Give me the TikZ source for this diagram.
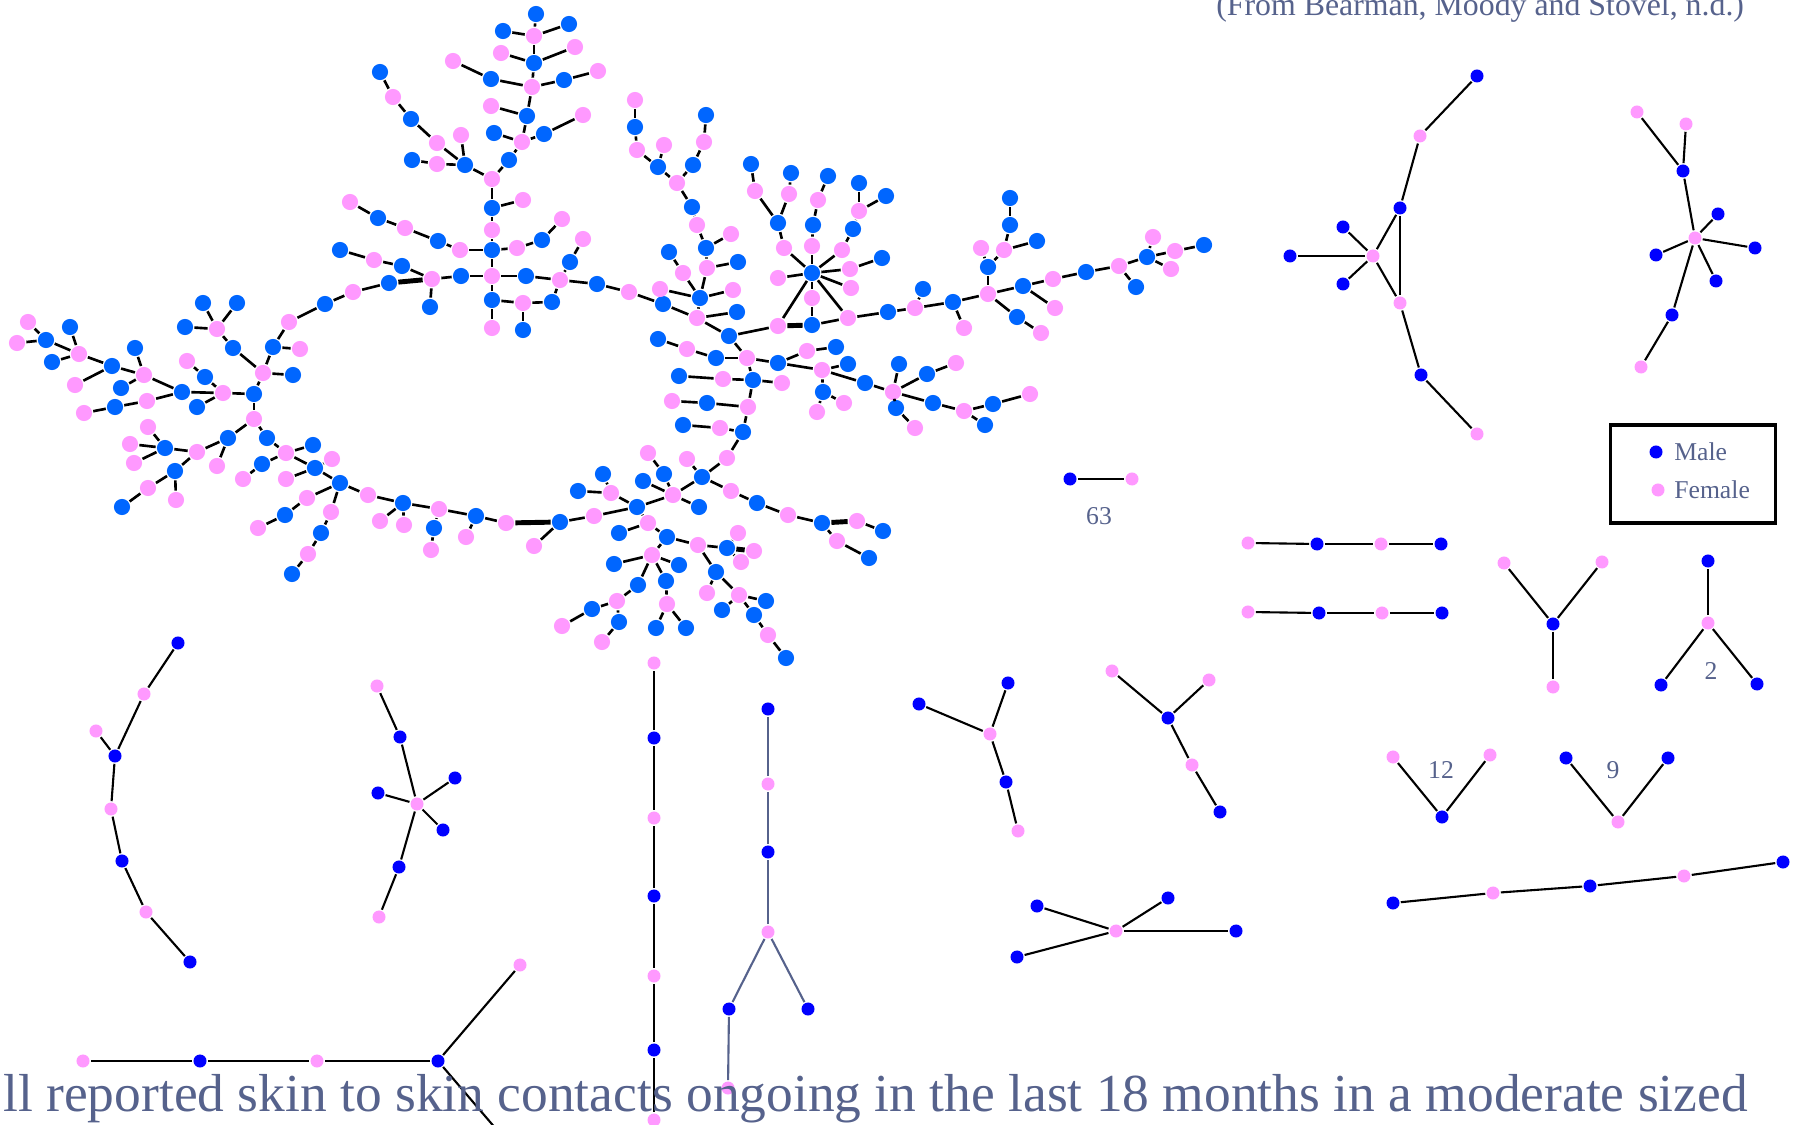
\documentclass[tikz,border=0pt]{standalone}
\usepackage{fontspec}
\setmainfont{Liberation Serif}
\usepackage{tikz}

\definecolor{boyblue}{RGB}{0,102,255}
\definecolor{girlpink}{RGB}{255,153,255}
\definecolor{pureblue}{RGB}{0,0,255}
\definecolor{slate}{RGB}{86,98,140}

\begin{document}
\begin{tikzpicture}
        [x=0.01cm,y=-0.01cm,line width=0.75pt,
         every node/.style={circle,inner sep=0pt},
         m/.style={fill=boyblue,minimum size=4.6pt},
         f/.style={fill=girlpink,minimum size=4.6pt},
         sm/.style={fill=pureblue,minimum size=3.7pt},
         sf/.style={fill=girlpink,minimum size=3.7pt},
         heavy/.style={line width=1.4pt},
         lite/.style={line width=0.6pt},
         lbl/.style={rectangle,text=slate,font=\fontsize{7.3}{8}\selectfont}]
        \useasboundingbox (0,0) rectangle (1800,1125);

        % big component, left cluster
        \node[f] (a1) at (28,322) {};  \node[m] (a2) at (46,340) {};  \node[f] (a3) at (17,343) {};
        \node[m] (a4) at (70,327) {};  \node[m] (a5) at (52,362) {};  \node[f] (a6) at (79,354) {};
        \node[m] (a7) at (112,366) {}; \node[f] (a8) at (75,385) {};  \node[m] (a9) at (135,348) {};
        \node[f] (a10) at (144,375) {}; \node[m] (a11) at (121,388) {}; \node[f] (a12) at (147,401) {};
        \node[m] (a13) at (115,407) {}; \node[f] (a14) at (84,413) {};  \node[m] (a15) at (182,392) {};
        \node[f] (a16) at (187,361) {}; \node[m] (a17) at (205,377) {}; \node[f] (a18) at (223,393) {};
        \node[m] (a19) at (197,407) {}; \node[m] (a20) at (254,394) {}; \node[f] (a21) at (263,373) {};
        \node[m] (a22) at (293,375) {}; \node[m] (a23) at (233,348) {}; \node[f] (a24) at (217,329) {};
        \node[m] (a25) at (203,303) {}; \node[m] (a26) at (237,303) {}; \node[m] (a27) at (185,327) {};
        \node[m] (a28) at (273,347) {}; \node[f] (a29) at (300,349) {}; \node[f] (a30) at (289,322) {};
        \node[m] (a31) at (325,304) {}; \node[f] (a32) at (353,292) {}; \node[m] (a33) at (389,283) {};

        % lower left arm
        \node[f] (b1) at (254,419) {};  \node[m] (b2) at (228,438) {};  \node[f] (b3) at (197,452) {};
        \node[m] (b4) at (165,448) {};  \node[f] (b5) at (148,427) {};  \node[f] (b6) at (130,444) {};
        \node[f] (b7) at (134,463) {};  \node[m] (b8) at (175,471) {};  \node[f] (b9) at (148,488) {};
        \node[m] (b10) at (122,507) {}; \node[f] (b11) at (176,500) {}; \node[f] (b12) at (217,466) {};
        \node[m] (b13) at (267,438) {}; \node[f] (b14) at (286,453) {}; \node[m] (b15) at (313,445) {};
        \node[m] (b16) at (262,464) {}; \node[f] (b17) at (243,479) {}; \node[m] (b18) at (315,468) {};
        \node[f] (b19) at (332,459) {}; \node[f] (b20) at (286,479) {}; \node[m] (b21) at (340,483) {};
        \node[f] (b22) at (307,498) {}; \node[m] (b23) at (285,515) {}; \node[f] (b24) at (258,528) {};
        \node[f] (b25) at (331,512) {}; \node[m] (b26) at (321,533) {}; \node[f] (b27) at (308,554) {};
        \node[m] (b28) at (292,574) {}; \node[f] (b29) at (368,495) {}; \node[m] (b30) at (403,503) {};
        \node[f] (b31) at (380,521) {}; \node[f] (b32) at (404,525) {}; \node[f] (b33) at (439,509) {};
        \node[m] (b34) at (434,528) {}; \node[f] (b35) at (431,550) {}; \node[m] (b36) at (476,516) {};
        \node[f] (b37) at (466,537) {}; \node[f] (b38) at (506,523) {}; \node[m] (b39) at (560,522) {};
        \node[f] (b40) at (534,546) {}; \node[f] (b41) at (594,516) {};

        % bottom cluster
        \node[m] (c1) at (637,507) {};  \node[f] (c2) at (611,493) {};  \node[m] (c3) at (578,491) {};
        \node[m] (c4) at (603,474) {};  \node[f] (c5) at (673,495) {};  \node[m] (c6) at (643,481) {};
        \node[m] (c7) at (664,474) {};  \node[f] (c8) at (648,453) {};  \node[m] (c9) at (699,507) {};
        \node[m] (c10) at (702,477) {}; \node[f] (c11) at (687,459) {}; \node[f] (c12) at (727,458) {};
        \node[m] (c13) at (743,432) {}; \node[f] (c14) at (720,428) {}; \node[m] (c15) at (683,425) {};
        \node[f] (c16) at (731,491) {}; \node[m] (c17) at (757,503) {}; \node[f] (c18) at (788,515) {};
        \node[m] (c19) at (822,523) {}; \node[f] (c20) at (857,521) {}; \node[m] (c21) at (883,531) {};
        \node[f] (c22) at (837,541) {}; \node[m] (c23) at (869,558) {}; \node[f] (c24) at (648,523) {};
        \node[m] (c25) at (619,533) {}; \node[m] (c26) at (667,537) {}; \node[f] (c27) at (698,545) {};
        \node[m] (c28) at (727,548) {}; \node[f] (c29) at (738,533) {}; \node[f] (c30) at (754,551) {};
        \node[f] (c31) at (741,562) {}; \node[f] (c32) at (652,555) {}; \node[m] (c33) at (614,564) {};
        \node[m] (c34) at (679,565) {}; \node[m] (c35) at (638,585) {}; \node[f] (c36) at (617,601) {};
        \node[m] (c37) at (592,609) {}; \node[f] (c38) at (562,626) {}; \node[m] (c39) at (619,622) {};
        \node[f] (c40) at (602,642) {}; \node[m] (c41) at (666,581) {}; \node[f] (c42) at (667,604) {};
        \node[m] (c43) at (656,628) {}; \node[m] (c44) at (686,628) {}; \node[m] (c45) at (716,572) {};
        \node[f] (c46) at (707,593) {}; \node[f] (c47) at (739,595) {}; \node[m] (c48) at (766,601) {};
        \node[m] (c49) at (722,610) {}; \node[m] (c50) at (754,615) {}; \node[f] (c51) at (768,635) {};
        \node[m] (c52) at (786,658) {};

        % center column
        \node[f] (d1) at (432,279) {};  \node[m] (d2) at (402,266) {};  \node[f] (d3) at (374,260) {};
        \node[m] (d4) at (340,250) {};  \node[m] (d5) at (430,307) {};  \node[m] (d6) at (461,276) {};
        \node[f] (d7) at (492,276) {};  \node[m] (d8) at (492,250) {};  \node[f] (d9) at (492,230) {};
        \node[m] (d10) at (492,208) {}; \node[f] (d11) at (523,200) {}; \node[f] (d12) at (492,179) {};
        \node[m] (d13) at (509,160) {}; \node[f] (d14) at (522,142) {}; \node[m] (d15) at (494,133) {};
        \node[m] (d16) at (544,134) {}; \node[f] (d17) at (583,115) {}; \node[m] (d18) at (527,116) {};
        \node[f] (d19) at (491,106) {}; \node[f] (d20) at (532,87) {};  \node[m] (d21) at (491,79) {};
        \node[f] (d22) at (453,61) {};  \node[m] (d23) at (564,80) {};  \node[f] (d24) at (598,71) {};
        \node[m] (d25) at (534,63) {};  \node[f] (d26) at (501,53) {};  \node[f] (d27) at (575,47) {};
        \node[f] (d28) at (534,36) {};  \node[m] (d29) at (536,14) {};  \node[m] (d30) at (503,31) {};
        \node[m] (d31) at (569,24) {};  \node[m] (d32) at (465,165) {}; \node[f] (d33) at (461,135) {};
        \node[f] (d34) at (437,164) {}; \node[m] (d35) at (412,160) {}; \node[f] (d36) at (437,143) {};
        \node[m] (d37) at (411,119) {}; \node[f] (d38) at (393,97) {};  \node[m] (d39) at (380,72) {};
        \node[f] (d40) at (460,250) {}; \node[m] (d41) at (438,241) {}; \node[f] (d42) at (405,228) {};
        \node[m] (d43) at (378,218) {}; \node[f] (d44) at (350,202) {}; \node[f] (d45) at (517,248) {};
        \node[m] (d46) at (542,240) {}; \node[f] (d47) at (562,219) {}; \node[m] (d48) at (526,276) {};
        \node[f] (d49) at (560,280) {}; \node[m] (d50) at (570,262) {}; \node[f] (d51) at (583,239) {};
        \node[m] (d52) at (492,300) {}; \node[f] (d53) at (492,328) {}; \node[f] (d54) at (523,303) {};
        \node[m] (d55) at (523,330) {}; \node[m] (d56) at (552,302) {}; \node[m] (d57) at (597,284) {};
        \node[f] (d58) at (629,292) {}; \node[m] (d59) at (663,304) {};

        % star region
        \node[f] (e1) at (697,318) {};  \node[m] (e2) at (700,298) {};  \node[f] (e3) at (683,273) {};
        \node[m] (e4) at (669,252) {};  \node[f] (e5) at (707,268) {};  \node[m] (e6) at (706,248) {};
        \node[f] (e7) at (731,234) {};  \node[m] (e8) at (738,262) {};  \node[f] (e9) at (697,225) {};
        \node[m] (e10) at (692,207) {}; \node[f] (e11) at (677,183) {}; \node[m] (e12) at (658,167) {};
        \node[f] (e13) at (664,145) {}; \node[f] (e14) at (637,150) {}; \node[m] (e15) at (635,127) {};
        \node[f] (e16) at (635,100) {}; \node[m] (e17) at (693,165) {}; \node[f] (e18) at (704,142) {};
        \node[m] (e19) at (706,115) {}; \node[f] (e20) at (660,289) {}; \node[f] (e21) at (733,290) {};
        \node[m] (e22) at (737,312) {}; \node[m] (e23) at (729,336) {}; \node[f] (e24) at (778,326) {};
        \node[m] (e25) at (812,325) {}; \node[f] (e26) at (812,298) {}; \node[m] (e27) at (812,273) {};
        \node[f] (e28) at (784,248) {}; \node[m] (e29) at (778,223) {}; \node[f] (e30) at (755,191) {};
        \node[m] (e31) at (751,164) {}; \node[f] (e32) at (789,194) {}; \node[m] (e33) at (791,173) {};
        \node[f] (e34) at (812,246) {}; \node[m] (e35) at (813,225) {}; \node[f] (e36) at (818,200) {};
        \node[m] (e37) at (828,176) {}; \node[f] (e38) at (842,250) {}; \node[m] (e39) at (853,229) {};
        \node[f] (e40) at (859,211) {}; \node[m] (e41) at (859,183) {}; \node[m] (e42) at (886,196) {};
        \node[f] (e43) at (850,269) {}; \node[m] (e44) at (882,258) {}; \node[f] (e45) at (851,288) {};
        \node[f] (e46) at (778,278) {}; \node[f] (e47) at (848,318) {};

        % right arm
        \node[m] (g1) at (888,312) {};  \node[f] (g2) at (915,308) {};  \node[m] (g3) at (923,289) {};
        \node[m] (g4) at (953,302) {};  \node[f] (g5) at (964,328) {};  \node[f] (g6) at (988,294) {};
        \node[m] (g7) at (988,267) {};  \node[f] (g8) at (981,248) {};  \node[f] (g9) at (1004,250) {};
        \node[m] (g10) at (1010,225) {}; \node[m] (g11) at (1010,198) {}; \node[m] (g12) at (1037,241) {};
        \node[m] (g13) at (1023,286) {}; \node[f] (g14) at (1053,279) {}; \node[m] (g15) at (1086,272) {};
        \node[f] (g16) at (1119,266) {}; \node[m] (g17) at (1147,257) {}; \node[f] (g18) at (1153,237) {};
        \node[f] (g19) at (1175,251) {}; \node[m] (g20) at (1204,245) {}; \node[f] (g21) at (1171,269) {};
        \node[m] (g22) at (1136,287) {}; \node[f] (g23) at (1055,308) {}; \node[m] (g24) at (1017,317) {};
        \node[f] (g25) at (1041,333) {};

        % lower right arm
        \node[m] (h1) at (658,339) {};  \node[f] (h2) at (687,349) {};  \node[m] (h3) at (716,358) {};
        \node[f] (h4) at (747,358) {};  \node[m] (h5) at (778,363) {};  \node[f] (h6) at (807,351) {};
        \node[m] (h7) at (836,347) {};  \node[f] (h8) at (822,370) {};  \node[m] (h9) at (848,364) {};
        \node[m] (h10) at (823,392) {}; \node[f] (h11) at (817,412) {}; \node[f] (h12) at (844,403) {};
        \node[m] (h13) at (865,383) {}; \node[f] (h14) at (893,392) {}; \node[m] (h15) at (899,364) {};
        \node[m] (h16) at (927,374) {}; \node[f] (h17) at (956,363) {}; \node[m] (h18) at (933,403) {};
        \node[f] (h19) at (964,411) {}; \node[m] (h20) at (993,404) {}; \node[f] (h21) at (1030,394) {};
        \node[m] (h22) at (985,425) {}; \node[m] (h23) at (896,408) {}; \node[f] (h24) at (915,428) {};
        \node[m] (h25) at (753,380) {}; \node[f] (h26) at (723,379) {}; \node[m] (h27) at (679,376) {};
        \node[f] (h28) at (782,383) {}; \node[f] (h29) at (748,407) {}; \node[m] (h30) at (707,403) {};
        \node[f] (h31) at (672,401) {};

        \path (a2) edge (a1) edge (a3) edge (a6);
        \path (a6) edge (a4) edge (a5) edge (a7);
        \path (a7) edge (a8) edge (a10);
        \path (a10) edge (a9) edge (a11) edge (a15);
        \path (a15) edge (a12) edge (a18);
        \path (a13) edge (a12) edge (a14);
        \path (a17) edge (a16) edge (a18);
        \path (a18) edge (a19) edge (a20);
        \path (a20) edge (a21) edge (b1);
        \path (a21) edge (a22) edge (a23) edge (a28);
        \path (a24) edge (a23) edge (a25) edge (a26) edge (a27);
        \path (a28) edge (a29) edge (a30);
        \path (a31) edge (a30) edge (a32);
        \path (a32) edge (a33);
        \path [heavy] (a33) edge (d1);

        \path (b1) edge (b2) edge (b13);
        \path (b2) edge (b3) edge (b12);
        \path (b3) edge (b4) edge (b8);
        \path (b4) edge (b5) edge (b6) edge (b7);
        \path (b8) edge (b9) edge (b11);
        \path (b9) edge (b10);
        \path (b14) edge (b13) edge (b15) edge (b16) edge (b18);
        \path (b16) edge (b17);
        \path (b18) edge (b19) edge (b20) edge (b21);
        \path (b21) edge (b22) edge (b25) edge (b29);
        \path (b23) edge (b22) edge (b24);
        \path (b26) edge (b25) edge (b27);
        \path (b27) edge (b28);
        \path (b30) edge (b29) edge (b31) edge (b32) edge (b33);
        \path (b33) edge (b34) edge (b36);
        \path (b34) edge (b35);
        \path (b36) edge (b37) edge (b38);
        \path [heavy] (b38) edge (b39);
        \path (b39) edge (b40) edge (b41);
        \path (b41) edge (c1);

        \path (c1) edge (c2) edge (c5) edge (c24);
        \path (c2) edge (c3) edge (c4);
        \path (c5) edge (c6) edge (c7) edge (c9) edge (c10);
        \path (c7) edge (c8);
        \path (c10) edge (c11) edge (c12) edge (c16);
        \path (c12) edge (c13);
        \path (c14) edge (c13) edge (c15);
        \path (c17) edge (c16) edge (c18);
        \path (c19) edge (c18) edge (c22);
        \path [heavy] (c19) edge (c20);
        \path (c20) edge (c21);
        \path (c22) edge (c23);
        \path (c24) edge (c25) edge (c26);
        \path (c26) edge (c27) edge (c32);
        \path (c27) edge (c28) edge (c45);
        \path (c28) edge (c29) edge (c31);
        \path [heavy] (c28) edge (c30);
        \path (c32) edge (c33) edge (c34) edge (c35) edge (c41);
        \path (c36) edge (c35) edge (c37) edge (c39);
        \path (c37) edge (c38);
        \path (c39) edge (c40);
        \path (c42) edge (c41) edge (c43) edge (c44);
        \path (c45) edge (c46) edge (c47);
        \path (c47) edge (c48) edge (c49) edge (c50);
        \path (c51) edge (c50) edge (c52);

        \path (d3) edge (d4) edge (d2);
        \path (d1) edge (d2) edge (d5) edge (d6);
        \path (d7) edge (d6) edge (d8) edge (d48) edge (d52);
        \path (d8) edge (d9) edge (d40) edge (d45);
        \path (d10) edge (d9) edge (d11) edge (d12);
        \path (d12) edge (d13) edge (d32);
        \path (d14) edge (d13) edge (d15) edge (d16) edge (d18);
        \path (d16) edge (d17);
        \path (d18) edge (d19) edge (d20);
        \path (d20) edge (d21) edge (d23) edge (d25);
        \path (d21) edge (d22);
        \path (d23) edge (d24);
        \path (d25) edge (d26) edge (d27) edge (d28);
        \path (d28) edge (d29) edge (d30) edge (d31);
        \path (d32) edge (d33) edge (d34) edge (d36);
        \path (d34) edge (d35);
        \path (d37) edge (d36) edge (d38);
        \path (d38) edge (d39);
        \path (d41) edge (d40) edge (d42);
        \path (d43) edge (d42) edge (d44);
        \path (d46) edge (d45) edge (d47);
        \path (d49) edge (d48) edge (d50) edge (d56) edge (d57);
        \path (d50) edge (d51);
        \path (d52) edge (d53) edge (d54);
        \path (d54) edge (d55) edge (d56);
        \path (d58) edge (d57) edge (d59);
        \path (d59) edge (e1);

        \path (e2) edge (e1) edge (e3) edge (e5) edge (e20) edge (e21);
        \path (e3) edge (e4);
        \path (e6) edge (e5) edge (e7) edge (e9);
        \path (e5) edge (e8);
        \path (e10) edge (e9) edge (e11);
        \path (e11) edge (e12) edge (e17);
        \path (e12) edge (e13) edge (e14);
        \path (e15) edge (e14) edge (e16);
        \path (e18) edge (e17) edge (e19);
        \path (e1) edge (e22) edge (e23);
        \path (e23) edge (e24) edge (h4);
        \path [heavy] (e24) edge (e25);
        \path (e25) edge (e26) edge (e47);
        \path (e27) edge (e26) edge (e28) edge (e34) edge (e38) edge (e43) edge (e45) edge (e46) edge (e24) edge (e47);
        \path (e29) edge (e28) edge (e30) edge (e32);
        \path (e30) edge (e31);
        \path (e32) edge (e33);
        \path (e35) edge (e34) edge (e36);
        \path (e36) edge (e37);
        \path (e39) edge (e38) edge (e40);
        \path (e40) edge (e41) edge (e42);
        \path (e43) edge (e44);
        \path (e47) edge (g1);

        \path (g2) edge (g1) edge (g3) edge (g4);
        \path (g4) edge (g5) edge (g6);
        \path (g6) edge (g7) edge (g13) edge (g24);
        \path (g7) edge (g8) edge (g9);
        \path (g9) edge (g10) edge (g12);
        \path (g10) edge (g11);
        \path (g13) edge (g14) edge (g23);
        \path (g15) edge (g14) edge (g16);
        \path (g16) edge (g17) edge (g22);
        \path (g17) edge (g18) edge (g19) edge (g21);
        \path (g19) edge (g20);
        \path (g24) edge (g25);

        \path (h2) edge (h1) edge (h3);
        \path (h4) edge (h3) edge (h5) edge (h25);
        \path (h5) edge (h6) edge (h8);
        \path (h6) edge (h7);
        \path (h8) edge (h9) edge (h10) edge (h13);
        \path (h10) edge (h11) edge (h12);
        \path (h14) edge (h13) edge (h15) edge (h16) edge (h18) edge (h23);
        \path (h16) edge (h17);
        \path (h19) edge (h18) edge (h20) edge (h22);
        \path (h20) edge (h21);
        \path (h23) edge (h24);
        \path (h25) edge (h26) edge (h28) edge (h29);
        \path (h26) edge (h27);
        \path (h29) edge (h30) edge (c13);
        \path (h30) edge (h31);

        % small components
        \node[sm] (p1) at (1477,76) {};  \node[sf] (p2) at (1420,136) {}; \node[sm] (p3) at (1400,208) {};
        \node[sm] (p4) at (1343,227) {}; \node[sm] (p5) at (1290,256) {}; \node[sf] (p6) at (1373,256) {};
        \node[sm] (p7) at (1343,284) {}; \node[sf] (p8) at (1400,303) {}; \node[sm] (p9) at (1421,375) {};
        \node[sf] (p10) at (1477,434) {};
        \path [lite] (p2) edge (p1) edge (p3);
        \path [lite] (p6) edge (p3) edge (p4) edge (p5) edge (p7) edge (p8);
        \path [lite] (p8) edge (p3) edge (p9);
        \path [lite] (p9) edge (p10);

        \node[sf] (q1) at (1637,112) {}; \node[sf] (q2) at (1686,124) {}; \node[sm] (q3) at (1683,171) {};
        \node[sf] (q4) at (1695,238) {}; \node[sm] (q5) at (1718,214) {}; \node[sm] (q6) at (1656,255) {};
        \node[sm] (q7) at (1755,248) {}; \node[sm] (q8) at (1716,281) {}; \node[sm] (q9) at (1672,315) {};
        \node[sf] (q10) at (1641,367) {};
        \path [lite] (q3) edge (q1) edge (q2) edge (q4);
        \path [lite] (q4) edge (q5) edge (q6) edge (q7) edge (q8) edge (q9);
        \path [lite] (q9) edge (q10);

        \node[sm] (r1) at (1070,479) {}; \node[sf] (r2) at (1132,479) {};
        \path [lite] (r1) edge (r2);
        \node[lbl] (r63) at (1099,516) {63};

        \node[sf] (s1) at (1248,543) {}; \node[sm] (s2) at (1317,544) {};
        \node[sf] (s3) at (1381,544) {}; \node[sm] (s4) at (1441,544) {};
        \path [lite] (s2) edge (s1) edge (s3);
        \path [lite] (s3) edge (s4);

        \node[sf] (t1) at (1248,612) {}; \node[sm] (t2) at (1319,613) {};
        \node[sf] (t3) at (1382,613) {}; \node[sm] (t4) at (1442,613) {};
        \path [lite] (t2) edge (t1) edge (t3);
        \path [lite] (t3) edge (t4);

        \node[sf] (k1) at (1504,563) {}; \node[sf] (k2) at (1602,562) {};
        \node[sm] (k3) at (1553,624) {}; \node[sf] (k4) at (1553,687) {};
        \path [lite] (k3) edge (k1) edge (k2) edge (k4);

        \node[sm] (l1) at (1708,561) {}; \node[sf] (l2) at (1708,623) {};
        \node[sm] (l3) at (1661,685) {}; \node[sm] (l4) at (1757,684) {};
        \path [lite] (l2) edge (l1) edge (l3) edge (l4);
        \node[lbl] (l2lab) at (1711,671) {2};

        \node[sf] (u1) at (1393,757) {}; \node[sf] (u2) at (1490,755) {}; \node[sm] (u3) at (1442,817) {};
        \path [lite] (u3) edge (u1) edge (u2);
        \node[lbl] (u12) at (1441,770) {12};

        \node[sm] (v1) at (1566,758) {}; \node[sm] (v2) at (1668,758) {}; \node[sf] (v3) at (1618,822) {};
        \path [lite] (v3) edge (v1) edge (v2);
        \node[lbl] (v9) at (1613,770) {9};

        \node[sm] (w1) at (1393,903) {}; \node[sf] (w2) at (1493,893) {}; \node[sm] (w3) at (1590,886) {};
        \node[sf] (w4) at (1684,876) {}; \node[sm] (w5) at (1783,862) {};
        \path [lite] (w2) edge (w1) edge (w3);
        \path [lite] (w4) edge (w3) edge (w5);

        \node[sm] (x1) at (178,643) {}; \node[sf] (x2) at (144,694) {}; \node[sf] (x3) at (96,731) {};
        \node[sm] (x4) at (115,756) {}; \node[sf] (x5) at (111,809) {}; \node[sm] (x6) at (122,861) {};
        \node[sf] (x7) at (146,912) {}; \node[sm] (x8) at (190,962) {};
        \path [lite] (x2) edge (x1) edge (x4);
        \path [lite] (x4) edge (x3) edge (x5);
        \path [lite] (x6) edge (x5) edge (x7);
        \path [lite] (x7) edge (x8);

        \node[sf] (y1) at (377,686) {}; \node[sm] (y2) at (400,737) {}; \node[sf] (y3) at (417,804) {};
        \node[sm] (y4) at (378,793) {}; \node[sm] (y5) at (455,778) {}; \node[sm] (y6) at (443,830) {};
        \node[sm] (y7) at (399,867) {}; \node[sf] (y8) at (379,917) {};
        \path [lite] (y2) edge (y1) edge (y3);
        \path [lite] (y3) edge (y4) edge (y5) edge (y6) edge (y7);
        \path [lite] (y7) edge (y8);

        \node[sf] (z1) at (83,1061) {};  \node[sm] (z2) at (200,1061) {};
        \node[sf] (z3) at (317,1061) {}; \node[sm] (z4) at (438,1061) {};
        \node[sf] (z5) at (520,965) {};  \coordinate (z6) at (520,1157);
        \path [lite] (z2) edge (z1) edge (z3);
        \path [lite] (z4) edge (z3) edge (z5) edge (z6);

        \node[sf] (f1) at (654,663) {};  \node[sm] (f2) at (654,738) {};  \node[sf] (f3) at (654,818) {};
        \node[sm] (f4) at (654,896) {};  \node[sf] (f5) at (654,976) {};  \node[sm] (f6) at (654,1050) {};
        \node[sf] (f7) at (654,1120) {};
        \path [lite] (f2) edge (f1) edge (f3);
        \path [lite] (f4) edge (f3) edge (f5);
        \path [lite] (f6) edge (f5) edge (f7);

        \node[sm] (n1) at (768,709) {};  \node[sf] (n2) at (768,784) {};  \node[sm] (n3) at (768,852) {};
        \node[sf] (n4) at (768,932) {};  \node[sm] (n5) at (729,1009) {}; \node[sm] (n6) at (808,1009) {};
        \node[sf] (n7) at (728,1088) {};
        \path [lite,draw=slate] (n2) edge (n1) edge (n3);
        \path [lite,draw=slate] (n4) edge (n3) edge (n5) edge (n6);
        \path [lite,draw=slate] (n5) edge (n7);

        \node[sm] (o1) at (919,704) {};  \node[sm] (o2) at (1008,683) {}; \node[sf] (o3) at (990,734) {};
        \node[sm] (o4) at (1006,782) {}; \node[sf] (o5) at (1018,831) {};
        \path [lite] (o3) edge (o1) edge (o2) edge (o4);
        \path [lite] (o4) edge (o5);

        \node[sf] (i1) at (1112,671) {}; \node[sf] (i2) at (1209,680) {}; \node[sm] (i3) at (1168,718) {};
        \node[sf] (i4) at (1192,765) {}; \node[sm] (i5) at (1220,812) {};
        \path [lite] (i3) edge (i1) edge (i2) edge (i4);
        \path [lite] (i4) edge (i5);

        \node[sm] (j1) at (1037,906) {}; \node[sm] (j2) at (1168,898) {}; \node[sf] (j3) at (1116,931) {};
        \node[sm] (j4) at (1236,931) {}; \node[sm] (j5) at (1017,957) {};
        \path [lite] (j3) edge (j1) edge (j2) edge (j4) edge (j5);

        % legend and texts
        \node[rectangle,draw,line width=0.9pt,minimum width=1.65cm,minimum height=0.98cm] (legend) at (1693,474) {};
        \node[sm] (legm) at (1656,452) {};
        \node[sf] (legf) at (1658,490) {};
        \node[lbl,anchor=west] (legmt) at (1673,452) {Male};
        \node[lbl,anchor=west] (legft) at (1673,490) {Female};

        \node[lbl,anchor=base west,font=\fontsize{9.05}{10}\selectfont] (source) at (1215,16) {(From Bearman, Moody and Stovel, n.d.)};
        \node[lbl,anchor=base west,font=\fontsize{15.2}{17}\selectfont] (caption) at (2,1111) {ll reported skin to skin contacts ongoing in the last 18 months in a moderate sized};
    \end{tikzpicture}
\end{document}
